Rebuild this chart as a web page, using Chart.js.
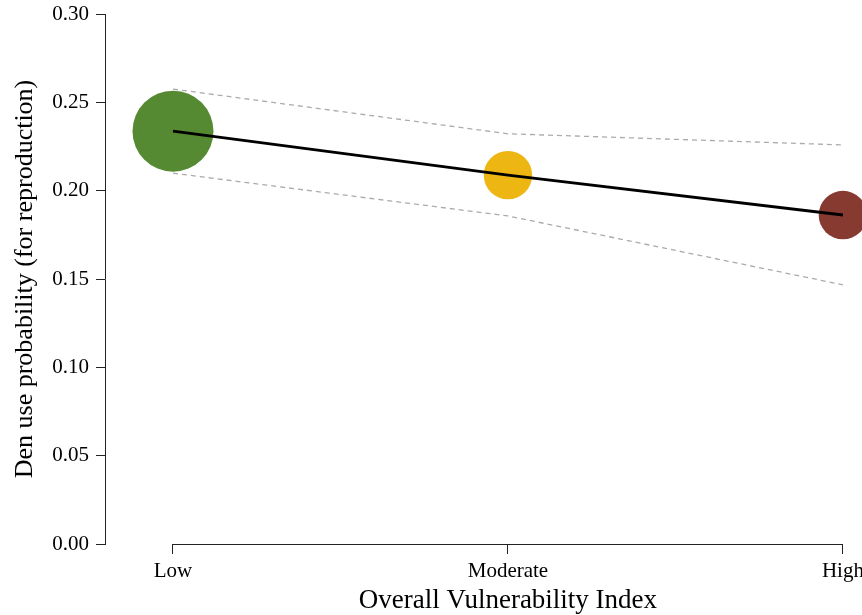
<!DOCTYPE html>
<html>
<head>
<meta charset="utf-8">
<script src="https://cdn.jsdelivr.net/npm/chart.js@4"></script>
<style>
  html, body { margin: 0; padding: 0; background: #fff; }
</style>
</head>
<body>
<canvas id="chart" width="862" height="615"></canvas>
<script>
// ===== DATA =====
const categories = ['Low', 'Moderate', 'High'];
const xPositions = [1, 2, 3];
const denUse = [0.2337, 0.2088, 0.1862];
const upperCI = [0.2575, 0.2322, 0.2259];
const lowerCI = [0.2099, 0.1857, 0.1467];
const yTicks = [0, 0.05, 0.10, 0.15, 0.20, 0.25, 0.30];

// marker look
const markerColors = ['#568a32', '#edb612', '#873a30'];
const markerRadius = [40.5, 24.2, 24.2];

const serif = '"Liberation Serif", "Times New Roman", serif';

function toPoints(vals) {
    return xPositions.map((x, i) => ({ x, y: vals[i] }));
}

// x axis line only between first and last category (R style) + x title
const axisPlugin = {
    id: 'axisExtras',
    afterDraw(chart) {
        const { ctx, scales: { x }, chartArea } = chart;
        const x0 = x.getPixelForValue(xPositions[0]);
        const x1 = x.getPixelForValue(xPositions[xPositions.length - 1]);
        const y = Math.round(chartArea.bottom) + 0.5;
        ctx.save();
        ctx.strokeStyle = '#222';
        ctx.lineWidth = 1;
        ctx.beginPath();
        ctx.moveTo(x0, y);
        ctx.lineTo(x1, y);
        ctx.stroke();

        ctx.fillStyle = '#000';
        ctx.font = '27px ' + serif;
        ctx.textAlign = 'center';
        ctx.textBaseline = 'alphabetic';
        ctx.fillText('Overall Vulnerability Index', (x0 + x1) / 2, 608);
        ctx.restore();
    }
};

const ctx = document.getElementById('chart');
new Chart(ctx, {
    type: 'line',
    data: {
        datasets: [
            {
                label: 'Index level',
                data: toPoints(denUse),
                showLine: false,
                pointRadius: markerRadius,
                pointHoverRadius: markerRadius,
                pointBackgroundColor: markerColors,
                pointBorderWidth: 0,
                borderColor: 'transparent',
                order: 3
            },
            {
                label: 'Upper CI',
                data: toPoints(upperCI),
                borderColor: '#ababab',
                borderWidth: 1.3,
                borderDash: [5, 4],
                pointRadius: 0,
                tension: 0,
                order: 2
            },
            {
                label: 'Lower CI',
                data: toPoints(lowerCI),
                borderColor: '#ababab',
                borderWidth: 1.3,
                borderDash: [5, 4],
                pointRadius: 0,
                tension: 0,
                order: 2
            },
            {
                label: 'Den use probability',
                data: toPoints(denUse),
                borderColor: '#000',
                borderWidth: 3,
                pointRadius: 0,
                tension: 0,
                order: 1
            }
        ]
    },
    options: {
        responsive: false,
        animation: false,
        events: [],
        layout: { autoPadding: false, padding: { top: 14, right: 0, bottom: 0, left: 0 } },
        plugins: {
            legend: { display: false },
            tooltip: { enabled: false }
        },
        scales: {
            x: {
                type: 'linear',
                min: 0.797,
                max: 3.057,
                afterBuildTicks: s => { s.ticks = xPositions.map(v => ({ value: v })); },
                afterFit: s => { s.height = 71; s.paddingLeft = 0; s.paddingRight = 0; },
                border: { display: false },
                grid: { drawOnChartArea: false, tickLength: 10, color: '#222' },
                ticks: {
                    color: '#000',
                    padding: 5,
                    font: { family: serif, size: 21 },
                    callback: v => categories[xPositions.indexOf(v)] || ''
                }
            },
            y: {
                min: 0,
                max: 0.3,
                afterBuildTicks: s => { s.ticks = yTicks.map(v => ({ value: v })); },
                afterFit: s => { s.width = 105; s.paddingTop = 0; s.paddingBottom = 0; },
                border: { display: true, color: '#222', width: 1 },
                grid: { drawOnChartArea: false, tickLength: 9, color: '#222' },
                ticks: {
                    color: '#000',
                    padding: 7,
                    font: { family: serif, size: 21 },
                    callback: v => Number(v).toFixed(2)
                },
                title: {
                    display: true,
                    text: 'Den use probability (for reproduction)',
                    color: '#000',
                    font: { family: serif, size: 26 },
                    padding: { top: 10, bottom: 0 }
                }
            }
        }
    },
    plugins: [axisPlugin]
});
</script>
</body>
</html>
